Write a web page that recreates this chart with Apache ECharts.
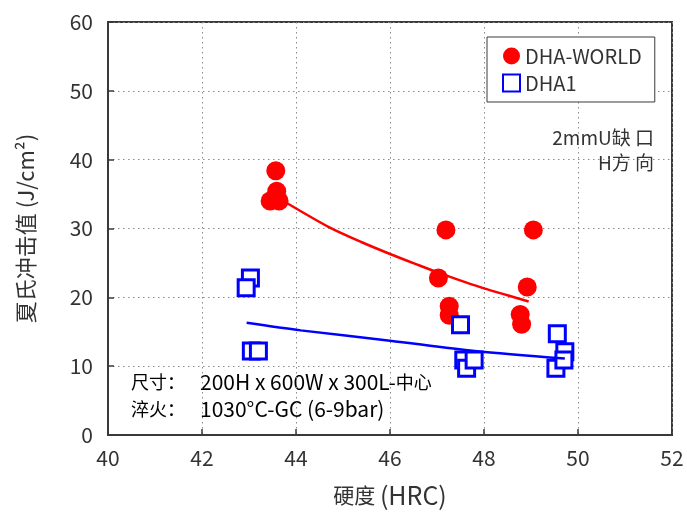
<!DOCTYPE html>
<html>
<head>
<meta charset="utf-8">
<script src="https://cdn.jsdelivr.net/npm/echarts@6/dist/echarts.min.js"></script>
<style>
html,body{margin:0;padding:0;background:#fff;}
#chart{width:687px;height:513px;}
</style>
</head>
<body>
<div id="chart"></div>
<script>
// ---- data ----
const seriesNames = ['DHA-WORLD', 'DHA1'];
const worldHRC    = [43.57, 43.59, 43.45, 43.64, 47.19, 47.03, 47.26, 47.26, 49.05, 48.92, 48.77, 48.80];
const worldImpact = [38.4, 35.4, 34.0, 34.0, 29.8, 22.8, 18.7, 17.4, 29.8, 21.5, 17.5, 16.1];
const dha1HRC     = [43.03, 42.94, 43.05, 43.20, 47.50, 47.57, 47.63, 47.79, 49.56, 49.72, 49.53, 49.70];
const dha1Impact  = [22.8, 21.4, 12.2, 12.2, 16.0, 10.9, 9.7, 10.9, 14.7, 12.1, 9.7, 10.9];
// trend lines
const worldTrendHRC    = [43.5, 43.8, 44.7, 45.4, 46.0, 46.6, 47.1, 47.6, 48.0, 48.5, 48.95];
const worldTrendImpact = [34.8, 33.7, 30.2, 28.0, 26.3, 24.7, 23.4, 22.2, 21.3, 20.3, 19.4];
const dha1TrendHRC     = [42.95, 44.1, 46.0, 47.8, 49.72];
const dha1TrendImpact  = [16.3, 15.2, 13.7, 12.2, 11.1];
const xTicks = [40, 42, 44, 46, 48, 50, 52];
const yTicks = [0, 10, 20, 30, 40, 50, 60];
const xName = ['硬度', '(HRC)'];
const yName = '夏氏冲击值 (J/cm²)';
const noteNotch = ['2mmU缺 口', 'H方 向'];
const noteSpec = [['尺寸', '：', '200H x 600W x 300L-', '中心'], ['淬火', '：', '1030°C-GC (6-9bar)', '']];

const zip = (a, b) => a.map((v, i) => [v, b[i]]);
const FONT = "'Noto Sans CJK SC', sans-serif";
const TXT = '#333';

const chart = echarts.init(document.getElementById('chart'), null, {renderer: 'canvas'});
const specText = (p) => '{c|' + p[0] + '}{k|' + p[1] + '}{l|' + p[2] + '}' + (p[3] ? '{c|' + p[3] + '}' : '');
const specRich = {
  c: {fontFamily: FONT, fontSize: 18, color: TXT},
  k: {fontFamily: FONT, fontSize: 18, color: TXT, width: 33},
  l: {fontFamily: FONT, fontSize: 21, color: TXT}
};
chart.setOption({
  animation: false,
  backgroundColor: '#fff',
  grid: {left: 108, right: 15, top: 22, bottom: 77, show: true, borderColor: '#3a3a3a', borderWidth: 2, containLabel: false},
  xAxis: {
    type: 'value', min: xTicks[0], max: xTicks[xTicks.length - 1], interval: 2,
    name: '{c|' + xName[0] + '} {l|' + xName[1] + '}', nameLocation: 'middle', nameGap: 48,
    nameTextStyle: {fontFamily: FONT, fontSize: 21, color: TXT,
      rich: {c: {fontFamily: FONT, fontSize: 21, color: TXT}, l: {fontFamily: FONT, fontSize: 25, color: TXT}}},
    axisLine: {show: true, lineStyle: {color: '#3a3a3a', width: 2}},
    axisTick: {show: true, inside: true, length: 6, lineStyle: {color: '#3a3a3a', width: 1.5}},
    axisLabel: {fontFamily: FONT, fontSize: 21, color: TXT, margin: 13},
    splitLine: {show: true, lineStyle: {color: '#8a8a8a', width: 1, type: [1.5, 3.5]}}
  },
  yAxis: {
    type: 'value', min: yTicks[0], max: yTicks[yTicks.length - 1], interval: 10,
    name: yName, nameLocation: 'middle', nameGap: 71, nameRotate: 90,
    nameTextStyle: {fontFamily: FONT, fontSize: 22, color: TXT},
    axisLine: {show: true, lineStyle: {color: '#3a3a3a', width: 2}},
    axisTick: {show: true, inside: true, length: 6, lineStyle: {color: '#3a3a3a', width: 1.5}},
    axisLabel: {fontFamily: FONT, fontSize: 21, color: TXT, margin: 15},
    splitLine: {show: true, lineStyle: {color: '#8a8a8a', width: 1, type: [1.5, 3.5]}}
  },
  legend: {
    data: seriesNames, orient: 'vertical', left: 487, top: 37,
    padding: [9, 13, 9, 15], itemGap: 7, itemWidth: 17, itemHeight: 17,
    backgroundColor: '#fff', borderColor: '#3a3a3a', borderWidth: 1,
    textStyle: {fontFamily: FONT, fontSize: 20, color: TXT}
  },
  graphic: [
    {type: 'text', right: 33, top: 128, style: {text: noteNotch[0], font: "19px " + FONT, fill: TXT}},
    {type: 'text', right: 33, top: 153, style: {text: noteNotch[1], font: "19px " + FONT, fill: TXT}},
    {type: 'text', left: 131, top: 372, style: {text: specText(noteSpec[0]), rich: specRich}},
    {type: 'text', left: 131, top: 399, style: {text: specText(noteSpec[1]), rich: specRich}}
  ],
  series: [
    {name: seriesNames[0], type: 'scatter', symbol: 'circle', symbolSize: 19, z: 3,
     itemStyle: {color: '#ff0000', opacity: 1}, data: zip(worldHRC, worldImpact)},
    {name: seriesNames[1], type: 'scatter', symbol: 'rect', symbolSize: 16, z: 4,
     itemStyle: {color: '#ffffff', borderColor: '#0000ff', borderWidth: 3, opacity: 1}, data: zip(dha1HRC, dha1Impact)},
    {name: 'worldTrend', type: 'line', smooth: 0.3, symbol: 'none', z: 5,
     lineStyle: {color: '#ff0000', width: 2.5}, data: zip(worldTrendHRC, worldTrendImpact)},
    {name: 'dha1Trend', type: 'line', smooth: 0.3, symbol: 'none', z: 5,
     lineStyle: {color: '#0000ff', width: 2.5}, data: zip(dha1TrendHRC, dha1TrendImpact)}
  ]
});
</script>
</body>
</html>
